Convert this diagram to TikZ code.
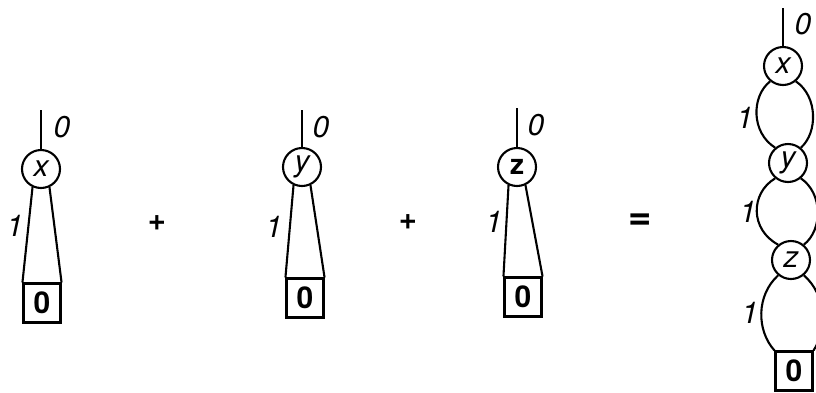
\documentclass[tikz,border=0pt]{standalone}
\usepackage{fontspec}
\setmainfont{TeX Gyre Heros}
\begin{document}
\begin{tikzpicture}[x=1pt,y=-1pt, line width=2.1pt,
  vnode/.style={circle,draw,minimum size=38pt,inner sep=0pt,font=\fontsize{30}{30}\selectfont\itshape},
  vbold/.style={circle,draw,minimum size=38pt,inner sep=0pt,font=\fontsize{28}{28}\selectfont\bfseries},
  term/.style={rectangle,draw,minimum width=37pt,minimum height=39pt,inner sep=0pt,font=\fontsize{30}{30}\selectfont\bfseries},
  lbl/.style={font=\fontsize{30}{30}\selectfont\itshape, inner sep=0pt},
  op/.style={font=\fontsize{31}{31}\selectfont\bfseries, inner sep=0pt},
  eq/.style={font=\fontsize{40}{40}\selectfont\bfseries, inner sep=0pt}]
\useasboundingbox (0,0) rectangle (816,392);

% diagram 1
\coordinate (t1) at (41,110);
\node[vnode] (x1) at (41,169) {x};
\node[term] (b1) at (42,303) {0};
\draw (t1) -- (x1);
\draw (x1.245) -- (b1.north west);
\draw (x1.295) -- (b1.north east);
\node[lbl] (l01) at (62,127) {0};
\node[lbl] (l11) at (15,226) {1};

\node[op] (p1) at (157,223) {+};

% diagram 2
\coordinate (t2) at (302,110);
\node[vnode] (y2) at (302,167) {y};
\node[term] (b2) at (305,298) {0};
\draw (t2) -- (y2);
\draw (y2.245) -- (b2.north west);
\draw (y2.295) -- (b2.north east);
\node[lbl] (l02) at (321,127) {0};
\node[lbl] (l12) at (274,227) {1};

\node[op] (p2) at (408,222) {+};

% diagram 3
\coordinate (t3) at (517,108);
\node[vbold] (z3) at (517,167) {z};
\node[term] (b3) at (523,297) {0};
\draw (t3) -- (z3);
\draw (z3.245) -- (b3.north west);
\draw (z3.295) -- (b3.north east);
\node[lbl] (l03) at (536,125) {0};
\node[lbl] (l13) at (494,222) {1};

\node[eq] (e1) at (640,222) {=};

% diagram 4
\coordinate (t4) at (783,8);
\node[vnode] (x4) at (783,66) {x};
\node[vnode] (y4) at (788,163) {y};
\node[vnode] (z4) at (791,260) {z};
\node[term] (b4) at (794,371) {0};
\draw (t4) -- (x4);
\draw (x4.230) .. controls +(-19,15) and +(-24,-15) .. (y4.130);
\draw (x4.310) .. controls +(22,15) and +(17,-15) .. (y4.50);
\draw (y4.230) .. controls +(-25,15) and +(-28,-15) .. (z4.130);
\draw (y4.310) .. controls +(22,15) and +(19,-15) .. (z4.50);
\draw (z4.230) .. controls +(-22,20) and +(-18,-20) .. (b4.north west);
\draw (z4.310) .. controls +(23,20) and +(13,-20) .. (b4.north east);
\node[lbl] (l04) at (803,24) {0};
\node[lbl] (l14a) at (745,118) {1};
\node[lbl] (l14b) at (748,212) {1};
\node[lbl] (l14c) at (750,313) {1};
\end{tikzpicture}
\end{document}
